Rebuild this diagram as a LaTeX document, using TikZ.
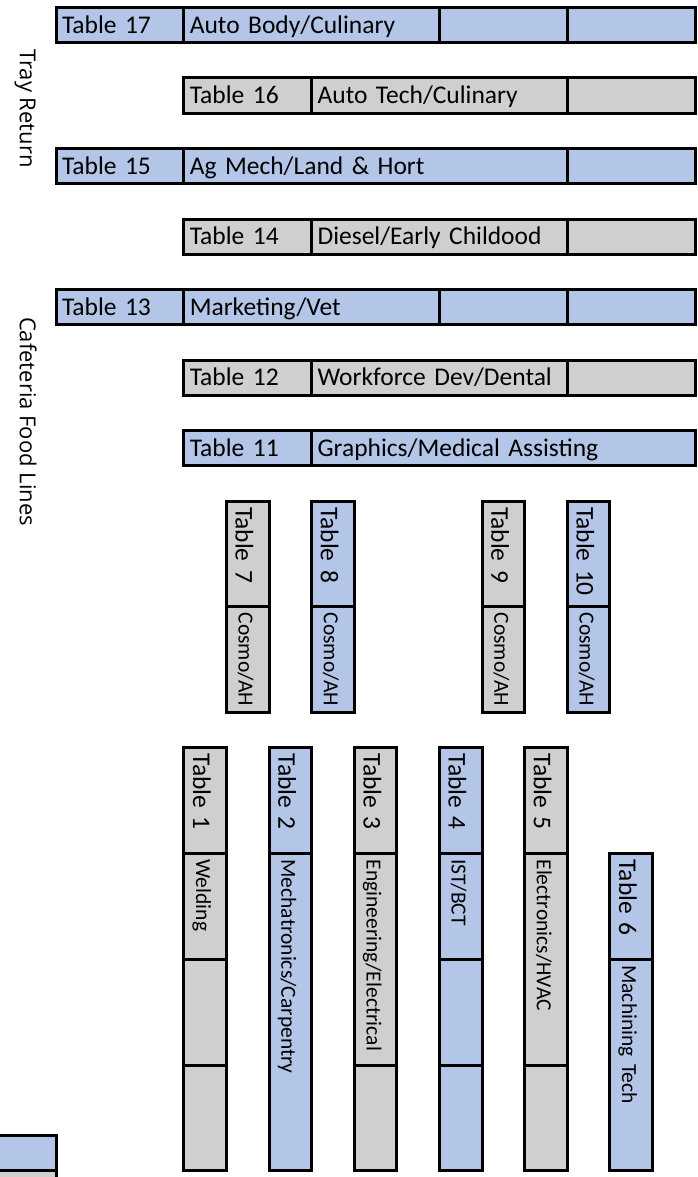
\documentclass[tikz,border=0pt]{standalone}
\usepackage{fontspec}
\setmainfont{Carlito}
\newfontfamily\sidefont{Open Sans}
\definecolor{tblblue}{HTML}{B4C6E7}
\definecolor{tblgray}{HTML}{D0CECE}
\newcommand{\tabfont}{\fontsize{25.5pt}{30pt}\selectfont}
\newcommand{\progfont}{\fontsize{21.5pt}{25pt}\selectfont}

\begin{document}
\begin{tikzpicture}[x=42.6pt, y=-35.25pt,
  cell/.style={draw, line width=3pt, anchor=north west, inner ysep=0pt, outer sep=0pt, align=left},
  hcell/.style={cell, minimum height=35.25pt, inner xsep=6pt, text height=16.4pt, text depth=0pt, font=\tabfont},
  wide/.style={minimum width=#1*42.6pt, text width=#1*42.6pt-12pt},
  vcell/.style={cell, rotate=-90, minimum height=42.6pt, inner xsep=6pt, text height=24pt, text depth=0pt, font=\tabfont},
  tall/.style={minimum width=#1*35.25pt, text width=#1*35.25pt-12pt},
  prog/.style={font=\progfont, text height=18pt},
  bluecell/.style={fill=tblblue},
  graycell/.style={fill=tblgray},
  side/.style={rotate=-90, anchor=base, inner sep=0pt, font={\sidefont\fontsize{22pt}{26pt}\selectfont}}]
  \clip (-56pt,7.5pt) rectangle (642pt,-1169.5pt);

  \node[side] (tray) at (-36pt,-101pt) {Tray Return};
  \node[side] (food) at (-36pt,-414pt) {Cafeteria Food Lines};

  % long tables
  \node[hcell, wide=3, bluecell] (t17) at (0,0) {Table 17};
  \node[hcell, wide=6, bluecell] (t17p) at (3,0) {Auto Body/Culinary};
  \node[hcell, wide=3, bluecell] (t17x) at (9,0) {};
  \node[hcell, wide=3, bluecell] (t17y) at (12,0) {};

  \node[hcell, wide=3, graycell] (t16) at (3,2) {Table 16};
  \node[hcell, wide=6, graycell] (t16p) at (6,2) {Auto Tech/Culinary};
  \node[hcell, wide=3, graycell] (t16x) at (12,2) {};

  \node[hcell, wide=3, bluecell] (t15) at (0,4) {Table 15};
  \node[hcell, wide=9, bluecell] (t15p) at (3,4) {Ag Mech/Land \& Hort};
  \node[hcell, wide=3, bluecell] (t15x) at (12,4) {};

  \node[hcell, wide=3, graycell] (t14) at (3,6) {Table 14};
  \node[hcell, wide=6, graycell] (t14p) at (6,6) {Diesel/Early Childood};
  \node[hcell, wide=3, graycell] (t14x) at (12,6) {};

  \node[hcell, wide=3, bluecell] (t13) at (0,8) {Table 13};
  \node[hcell, wide=6, bluecell] (t13p) at (3,8) {Marketing/Vet};
  \node[hcell, wide=3, bluecell] (t13x) at (9,8) {};
  \node[hcell, wide=3, bluecell] (t13y) at (12,8) {};

  \node[hcell, wide=3, graycell] (t12) at (3,10) {Table 12};
  \node[hcell, wide=6, graycell] (t12p) at (6,10) {Workforce Dev/Dental};
  \node[hcell, wide=3, graycell] (t12x) at (12,10) {};

  \node[hcell, wide=3, bluecell] (t11) at (3,12) {Table 11};
  \node[hcell, wide=9, bluecell] (t11p) at (6,12) {Graphics/Medical Assisting};

  % cosmo tables
  \node[vcell, tall=3, graycell] (t7) at (5,14) {Table 7};
  \node[vcell, tall=3, graycell, prog] (t7p) at (5,17) {Cosmo/AH};
  \node[vcell, tall=3, bluecell] (t8) at (7,14) {Table 8};
  \node[vcell, tall=3, bluecell, prog] (t8p) at (7,17) {Cosmo/AH};
  \node[vcell, tall=3, graycell] (t9) at (11,14) {Table 9};
  \node[vcell, tall=3, graycell, prog] (t9p) at (11,17) {Cosmo/AH};
  \node[vcell, tall=3, bluecell] (t10) at (13,14) {Table 10};
  \node[vcell, tall=3, bluecell, prog] (t10p) at (13,17) {Cosmo/AH};

  % shop tables
  \node[vcell, tall=3, graycell] (t1) at (4,21) {Table 1};
  \node[vcell, tall=3, graycell, prog] (t1p) at (4,24) {Welding};
  \node[vcell, tall=3, graycell] (t1x) at (4,27) {};
  \node[vcell, tall=3, graycell] (t1y) at (4,30) {};

  \node[vcell, tall=3, bluecell] (t2) at (6,21) {Table 2};
  \node[vcell, tall=9, bluecell, prog] (t2p) at (6,24) {Mechatronics/Carpentry};

  \node[vcell, tall=3, graycell] (t3) at (8,21) {Table 3};
  \node[vcell, tall=6, graycell, prog] (t3p) at (8,24) {Engineering/Electrical};
  \node[vcell, tall=3, graycell] (t3x) at (8,30) {};

  \node[vcell, tall=3, bluecell] (t4) at (10,21) {Table 4};
  \node[vcell, tall=3, bluecell, prog] (t4p) at (10,24) {IST/BCT};
  \node[vcell, tall=3, bluecell] (t4x) at (10,27) {};
  \node[vcell, tall=3, bluecell] (t4y) at (10,30) {};

  \node[vcell, tall=3, graycell] (t5) at (12,21) {Table 5};
  \node[vcell, tall=6, graycell, prog] (t5p) at (12,24) {Electronics/HVAC};
  \node[vcell, tall=3, graycell] (t5x) at (12,30) {};

  \node[vcell, tall=3, bluecell] (t6) at (14,24) {Table 6};
  \node[vcell, tall=6, bluecell, prog] (t6p) at (14,27) {Machining Tech};

  % corner of the next table
  \node[hcell, wide=2, bluecell] (edge1) at (-2,32) {};
  \node[hcell, wide=2, graycell] (edge2) at (-2,33) {};
\end{tikzpicture}
\end{document}
